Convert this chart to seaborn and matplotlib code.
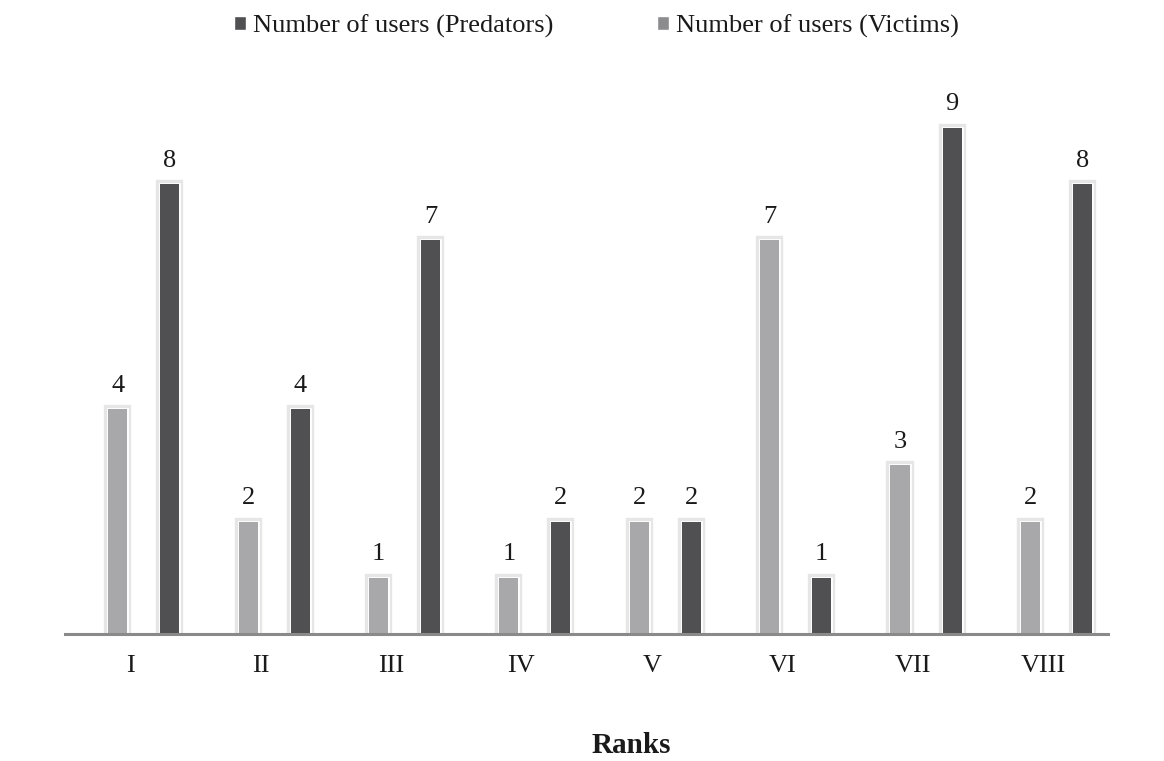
import numpy as np
import pandas as pd
import seaborn as sns
import matplotlib.pyplot as plt
import matplotlib.patheffects as pe
from matplotlib.patches import Patch

ranks = ["I", "II", "III", "IV", "V", "VI", "VII", "VIII"]
victims = [4, 2, 1, 1, 2, 7, 3, 2]
predators = [8, 4, 7, 2, 2, 1, 9, 8]

LIGHT = "#a8a8aa"
DARK = "#505052"

sns.set_theme(style="white")
plt.rcParams["font.family"] = ["Liberation Serif", "DejaVu Serif"]

fig = plt.figure(figsize=(11.64, 7.61), dpi=100)
ax = fig.add_axes([0.0558, 0.1669, 0.8962, 0.739])

pos = np.arange(len(ranks))
df_v = pd.DataFrame({"pos": pos - 0.096, "users": victims})
df_p = pd.DataFrame({"pos": pos + 0.303, "users": predators})

# soft halo around each bar
glow = [pe.Stroke(linewidth=6, foreground="#e6e6e6"),
        pe.Stroke(linewidth=2, foreground="white"),
        pe.Normal()]

sns.barplot(data=df_v, x="pos", y="users", native_scale=True, width=0.146,
            color=LIGHT, saturation=1, errorbar=None, ax=ax)
sns.barplot(data=df_p, x="pos", y="users", native_scale=True, width=0.146,
            color=DARK, saturation=1, errorbar=None, ax=ax)

for cont in ax.containers:
    for bar in cont:
        bar.set_path_effects(glow)
        bar.set_edgecolor("none")
    ax.bar_label(cont, fmt="%d", padding=9, fontsize=19, color="#1a1a1a")

ax.set_xlim(-0.5, 7.5)
ax.set_ylim(0, 10)
ax.set_xticks(pos, ranks)
ax.set_yticks([])
ax.tick_params(axis="x", length=0, pad=15, labelsize=19, labelcolor="#1a1a1a")
ax.set_xlabel("")
ax.set_ylabel("")
for side in ["left", "top", "right"]:
    ax.spines[side].set_visible(False)
ax.spines["bottom"].set_color("#8a8a8a")
ax.spines["bottom"].set_linewidth(2.2)
ax.spines["bottom"].set_zorder(5)

handles = [Patch(facecolor=DARK, label="Number of users (Predators)"),
           Patch(facecolor="#8c8c8e", label="Number of users (Victims)")]
fig.legend(handles=handles, loc="upper center", bbox_to_anchor=(0.5125, 1.012),
           ncol=2, frameon=False, fontsize=19, handlelength=0.45,
           handleheight=0.45, handletextpad=0.25, columnspacing=3.95,
           labelcolor="#1a1a1a")

fig.text(0.542, 0.011, "Ranks", ha="center", va="baseline", fontsize=21,
         fontweight="bold", color="#1a1a1a")

fig.savefig("out.png", dpi=100, facecolor="white")
